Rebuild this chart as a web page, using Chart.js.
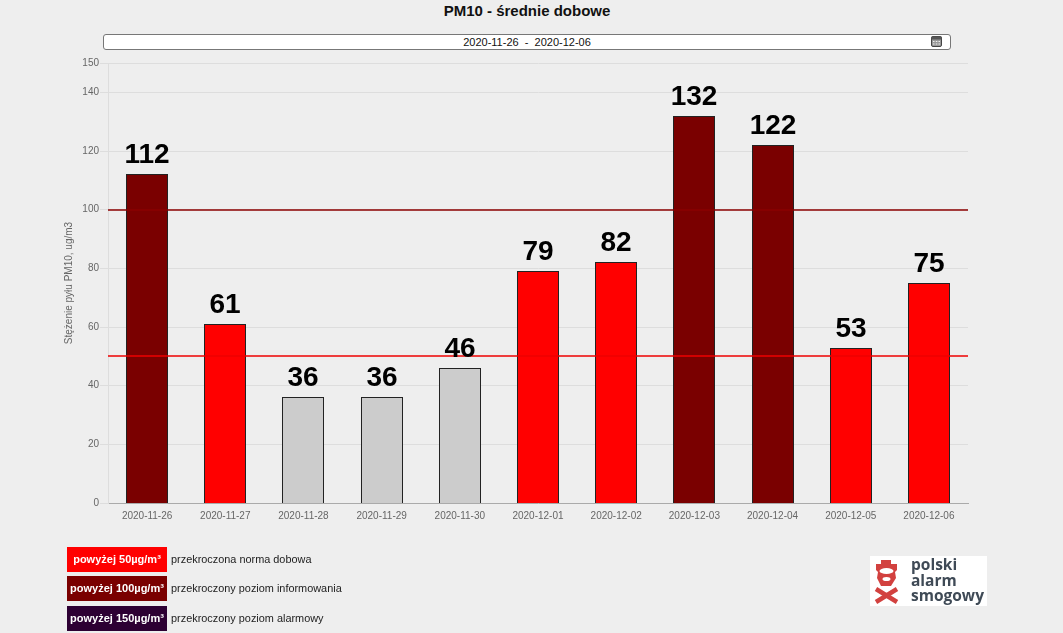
<!DOCTYPE html>
<html lang="pl">
<head>
<meta charset="utf-8">
<title>PM10 - średnie dobowe</title>
<script src="https://cdn.jsdelivr.net/npm/chart.js@4"></script>
<style>
    html, body { margin: 0; padding: 0; background: #eeeeee; font-family: "Liberation Sans", Arial, sans-serif; }
    #page { position: relative; width: 1063px; height: 633px; overflow: hidden; }
    #chart { position: absolute; left: 0; top: 0; }
    .title { position: absolute; left: 0; width: 1054px; top: 2px; text-align: center; font-size: 15px; font-weight: bold; color: #111; }
    .range { position: absolute; left: 103px; top: 34px; width: 846px; height: 14px; background: #fff; border: 1px solid #777; border-radius: 3px;
             text-align: center; font-size: 11px; line-height: 15px; color: #111; white-space: pre; }
    .range svg { position: absolute; right: 8px; top: 1px; }
    .legend-row { position: absolute; left: 67px; height: 25px; font-size: 10.9px; line-height: 25px; color: #222; white-space: nowrap; }
    .legend-row b { display: inline-block; width: 100px; height: 25px; margin-right: 4px; text-align: center; color: #fff; font-size: 11px; vertical-align: top; }
    .logo { position: absolute; left: 870px; top: 556px; width: 117px; height: 50px; background: #fff; }
    .logo svg { position: absolute; left: 3px; top: 2px; }
    .logo span { position: absolute; left: 41px; top: 1px; font-family: "Open Sans", sans-serif; font-size: 15.5px; line-height: 15.5px; font-weight: 700; color: #3f4a56; }
</style>
</head>
<body>
<div id="page">
    <div class="title">PM10 - średnie dobowe</div>
    <div class="range">2020-11-26  -  2020-12-06<svg width="11" height="11" viewBox="0 0 11 11"><rect x="0.5" y="0.5" width="10" height="10" rx="1.5" fill="#999" stroke="#444"/><rect x="0.5" y="0.5" width="10" height="3" fill="#555"/><path d="M2 5.5h1.5M4.8 5.5h1.5M7.5 5.5h1.5M2 8h1.5M4.8 8h1.5M7.5 8h1.5" stroke="#eee"/></svg></div>
    <canvas id="chart" width="1063" height="633"></canvas>
    <div class="legend-row" style="top:547px"><b style="background:#ff0000">powyżej 50µg/m³</b>przekroczona norma dobowa</div>
    <div class="legend-row" style="top:576px"><b style="background:#7a0000">powyżej 100µg/m³</b>przekroczony poziom informowania</div>
    <div class="legend-row" style="top:606px"><b style="background:#2d0033">powyżej 150µg/m³</b>przekroczony poziom alarmowy</div>
    <div class="logo">
        <svg width="28" height="46" viewBox="0 0 28 46">
            <path d="M3 6h5V2h10v4h6v6l-2 2 1 6-5 8H8l-4-8 1-6-2-2z" fill="#d2413f"/>
            <ellipse cx="13.5" cy="13" rx="7" ry="3" fill="#fff"/>
            <ellipse cx="13.5" cy="21" rx="4" ry="2" fill="#fff"/>
            <path d="M3 31l21 13M24 31L3 44" stroke="#d2413f" stroke-width="4.5"/>
        </svg>
        <span>polski<br>alarm<br>smogowy</span>
    </div>
</div>
<script>
const days = ['2020-11-26', '2020-11-27', '2020-11-28', '2020-11-29', '2020-11-30', '2020-12-01',
    '2020-12-02', '2020-12-03', '2020-12-04', '2020-12-05', '2020-12-06'];
const pm10 = [112, 61, 36, 36, 46, 79, 82, 132, 122, 53, 75];
const yTicks = [0, 20, 40, 60, 80, 100, 120, 140, 150];
const normLimit = 50;
const infoLimit = 100;

// bar colour depends on which limit the day went over
const barColor = v => v > infoLimit ? '#7a0000' : v > normLimit ? '#ff0000' : '#cccccc';

// value above each bar and the two limit lines
const overlay = {
    id: 'overlay',
    beforeDatasetsDraw(chart) {
        // snap bars to whole pixels so the 1px outline stays sharp
        chart.getDatasetMeta(0).data.forEach(bar => {
            bar.x = Math.round(bar.x);
            bar.y = Math.round(bar.y);
            bar.base = Math.round(bar.base);
            bar.width = Math.round(bar.width);
        });
    },
    afterDatasetsDraw(chart) {
        const { ctx, chartArea, scales } = chart;
        ctx.save();
        [[infoLimit, '#8b0000'], [normLimit, '#ee0000']].forEach(([limit, color]) => {
            const y = Math.round(scales.y.getPixelForValue(limit));
            ctx.strokeStyle = color;
            ctx.lineWidth = 1.6;
            ctx.beginPath();
            ctx.moveTo(chartArea.left, y);
            ctx.lineTo(chartArea.right, y);
            ctx.stroke();
        });
        ctx.fillStyle = '#000';
        ctx.font = 'bold 28px "Liberation Sans"';
        ctx.textAlign = 'center';
        ctx.textBaseline = 'alphabetic';
        chart.getDatasetMeta(0).data.forEach((bar, i) => {
            ctx.fillText(pm10[i], bar.x, bar.y - 11);
        });
        ctx.restore();
    }
};

new Chart(document.getElementById('chart'), {
    type: 'bar',
    data: {
        labels: days,
        datasets: [{
            data: pm10,
            backgroundColor: pm10.map(barColor),
            borderColor: '#222',
            borderWidth: 1,
            barPercentage: 0.54,
            categoryPercentage: 1
        }]
    },
    options: {
        responsive: false,
        animation: false,
        layout: { padding: { left: 63, right: 95, top: 63, bottom: 100 } },
        plugins: { legend: { display: false }, tooltip: { enabled: false } },
        scales: {
            x: {
                afterFit: axis => { axis.height = 30; },
                grid: { display: false, drawTicks: false },
                border: { color: '#aaaaaa' },
                ticks: { color: '#666', font: { size: 10, family: '"Liberation Sans"' }, maxRotation: 0, padding: 7 }
            },
            y: {
                min: 0,
                max: 150,
                afterFit: axis => { axis.width = 45; },
                afterBuildTicks: axis => { axis.ticks = yTicks.map(value => ({ value })); },
                grid: { color: '#dddddd', tickLength: 8 },
                border: { color: '#dddddd' },
                title: { display: true, text: 'Stężenie pyłu PM10, ug/m3', color: '#666', font: { size: 10, family: '"Liberation Sans"' }, padding: 0 },
                ticks: { color: '#666', font: { size: 10, family: '"Liberation Sans"' }, padding: 1 }
            }
        }
    },
    plugins: [overlay]
});
</script>
</body>
</html>
